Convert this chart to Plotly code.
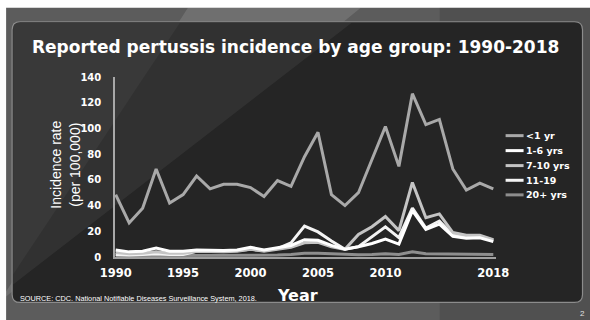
import plotly.graph_objects as go

years = list(range(1990, 2019))
under1 = [48.5, 26.5, 38, 68.5, 42, 48.5, 63, 53, 56.5, 56.5, 54, 47, 59.5, 55,
          78, 97, 48.5, 40, 50, 76, 101.5, 70.5, 127, 103, 107, 68.5, 52, 57.5, 53]
age1_6 = [5.5, 4, 4.5, 7, 4.5, 4.5, 5.5, 5, 5, 5.5, 7.5, 5.5, 7.5, 9,
          13.5, 13, 9, 6, 8, 10.5, 14, 10, 36, 21.5, 25.5, 16, 14.5, 15, 12]
age7_10 = [3.5, 2.5, 3, 4, 3, 3, 4.5, 4, 4, 4.5, 6, 4.5, 6, 7.5,
           11, 11.5, 8, 6, 17.5, 23.5, 31.5, 20.5, 58, 30.5, 33.5, 19, 17, 17, 13.5]
age11_19 = [2, 1.5, 2, 2.5, 2, 2, 4.5, 4.5, 4.5, 5, 6, 5, 6.5, 11,
            24, 19.5, 12.5, 6, 8, 16, 23.5, 15, 38, 22.5, 28, 17, 15.5, 16, 13]
age20p = [1, 1, 1, 1.2, 1, 1, 1, 1, 1.2, 1.2, 1.5, 1.5, 1.5, 2,
          3, 3, 2.5, 1.8, 1.8, 2, 2.5, 2, 4, 2.5, 2.5, 2, 2, 2, 2]

series_names = ["<1 yr", "1-6 yrs", "7-10 yrs", "11-19", "20+ yrs"]
series_values = [under1, age1_6, age7_10, age11_19, age20p]
series_colors = ["#a9a9a9", "#ffffff", "#c4c4c4", "#f4f4f4", "#8e8e8e"]

xtick_vals = [1990, 1995, 2000, 2005, 2010, 2018]
ytick_vals = [0, 20, 40, 60, 80, 100, 120, 140]

# geometry in pixels
WID, HEI = 590, 320
L, T = 115.0, 77.3
PW, PH = 381.4, 180.2
R = WID - L - PW
B = HEI - T - PH


def px(x):
    return (x - L) / PW


def py(y):
    return (T + PH - y) / PH


FONT = "Liberation Sans"
WFONT = "DejaVu Sans"

fig = go.Figure()
# draw order: bottom series first
for name, vals, col in reversed(list(zip(series_names, series_values, series_colors))):
    fig.add_trace(go.Scatter(x=years, y=vals, mode="lines", name=name,
                             line=dict(color=col, width=3), showlegend=False))

shapes = []
# outer slide background
shapes.append(dict(type="rect", xref="paper", yref="paper", x0=px(6), x1=px(592),
                   y0=py(8), y1=py(322), fillcolor="#5c5c5c", line=dict(width=0), layer="below"))
shapes.append(dict(type="path", xref="paper", yref="paper",
                   path=f"M{px(188)},{py(8)} L{px(361)},{py(8)} L{px(6)},{py(297)} L{px(6)},{py(292)} Z",
                   fillcolor="rgba(255,255,255,0.12)", line=dict(width=0), layer="below"))
shapes.append(dict(type="rect", xref="paper", yref="paper", x0=px(440), x1=px(592),
                   y0=py(8), y1=py(322), fillcolor="rgba(0,0,0,0.12)", line=dict(width=0), layer="below"))

# rounded dark panel
x0, x1, y0, y1, r = 12, 583, 22, 303, 8
path = (f"M{px(x0+r)},{py(y0)} L{px(x1-r)},{py(y0)} Q{px(x1)},{py(y0)} {px(x1)},{py(y0+r)} "
        f"L{px(x1)},{py(y1-r)} Q{px(x1)},{py(y1)} {px(x1-r)},{py(y1)} "
        f"L{px(x0+r)},{py(y1)} Q{px(x0)},{py(y1)} {px(x0)},{py(y1-r)} "
        f"L{px(x0)},{py(y0+r)} Q{px(x0)},{py(y0)} {px(x0+r)},{py(y0)} Z")
shapes.append(dict(type="path", xref="paper", yref="paper", path=path,
                   fillcolor="#252525", line=dict(color="#8c8c8c", width=1.2), layer="below"))
# faint diagonal streaks in panel
shapes.append(dict(type="path", xref="paper", yref="paper",
                   path=f"M{px(13)},{py(23)} L{px(352)},{py(23)} L{px(13)},{py(285)} Z",
                   fillcolor="rgba(255,255,255,0.06)", line=dict(width=0), layer="below"))
shapes.append(dict(type="path", xref="paper", yref="paper",
                   path=f"M{px(13)},{py(23)} L{px(180)},{py(23)} L{px(13)},{py(275)} Z",
                   fillcolor="rgba(255,255,255,0.04)", line=dict(width=0), layer="below"))

# legend (manual, compact spacing)
annotations = []
leg_y = [136, 151, 166, 180.7, 195.3]
for name, col, yy in zip(series_names, series_colors, leg_y):
    shapes.append(dict(type="line", xref="paper", yref="paper", x0=px(506), x1=px(524),
                       y0=py(yy), y1=py(yy), line=dict(color=col, width=3)))
    annotations.append(dict(xref="paper", yref="paper", x=px(524), y=py(yy), text=name,
                            showarrow=False, xanchor="left", yanchor="middle",
                            font=dict(family=WFONT, size=9.5, color="white", weight="bold")))

annotations += [
    dict(xref="paper", yref="paper", x=px(296), y=py(47), text="Reported pertussis incidence by age group: 1990-2018",
         showarrow=False, xanchor="center", yanchor="middle",
         font=dict(family=WFONT, size=17, color="white", weight="bold")),
    dict(xref="paper", yref="paper", x=px(65), y=py(165), text="Incidence rate<br>(per 100,000)",
         showarrow=False, textangle=-90, xanchor="center", yanchor="middle",
         font=dict(family="Liberation Sans Narrow, " + FONT, size=14, color="white")),
    dict(xref="paper", yref="paper", x=px(298), y=py(296), text="Year",
         showarrow=False, xanchor="center", yanchor="middle",
         font=dict(family=WFONT, size=16, color="white", weight="bold")),
    dict(xref="paper", yref="paper", x=px(18), y=py(299),
         text="SOURCE: CDC. National Notifiable Diseases Surveillance System, 2018.",
         showarrow=False, xanchor="left", yanchor="middle",
         font=dict(family=FONT, size=7.3, color="white")),
    dict(xref="paper", yref="paper", x=px(583), y=py(314), text="2",
         showarrow=False, xanchor="center", yanchor="middle",
         font=dict(family=FONT, size=8, color="#e0e0e0")),
]

fig.update_layout(
    width=WID, height=HEI,
    margin=dict(l=L, r=R, t=T, b=B, pad=0),
    paper_bgcolor="white", plot_bgcolor="rgba(0,0,0,0)",
    shapes=shapes, annotations=annotations, showlegend=False,
    xaxis=dict(range=[1989.95, 2018.2], tickvals=xtick_vals, ticktext=[str(v) for v in xtick_vals],
               showgrid=False, zeroline=False, showline=True, linecolor="#a0a0a0", linewidth=1.5,
               ticks="", ticklabelstandoff=4,
               tickfont=dict(family=WFONT, size=11.5, color="white", weight="bold")),
    yaxis=dict(range=[0, 140], tickvals=ytick_vals, showgrid=False, zeroline=False,
               showline=True, linecolor="#a8a8a8", linewidth=1.5, ticks="", ticklabelstandoff=10,
               tickfont=dict(family=WFONT, size=10, color="white", weight="bold")),
)

fig.write_html("out.html")
